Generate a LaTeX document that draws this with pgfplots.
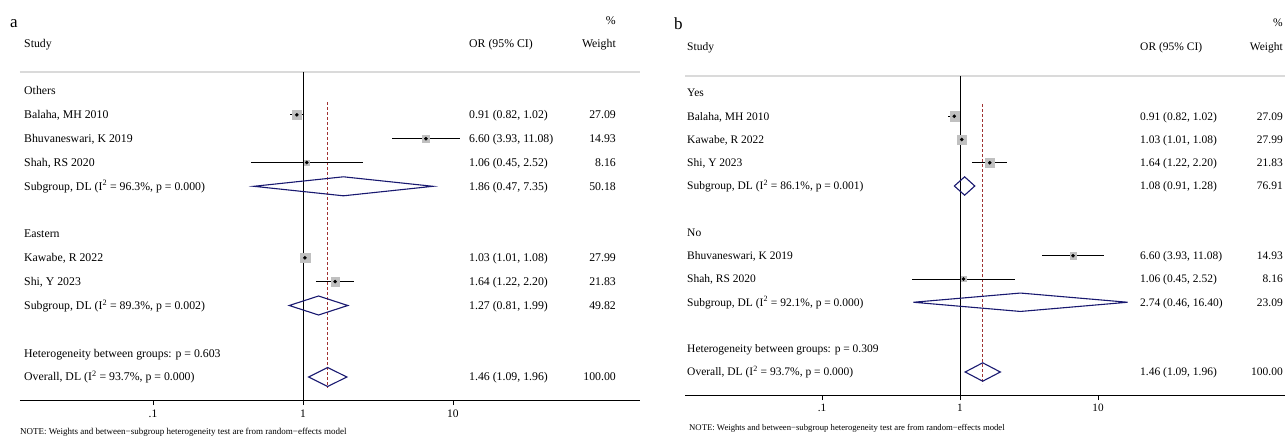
\documentclass[border=0pt]{standalone}
\usepackage{fontspec}
\setmainfont{Liberation Serif}
\usepackage{pgfplots}
\pgfplotsset{compat=1.18}
\definecolor{dnavy}{RGB}{25,25,112}
\definecolor{dred}{RGB}{160,50,50}
\definecolor{boxgray}{RGB}{192,192,192}
\definecolor{linegray}{RGB}{218,218,218}
\newcommand\fa{\fontsize{11.8}{14}\selectfont}
\newcommand\fb{\fontsize{11.5}{14}\selectfont}
\pgfplotsset{
  ci/.style={black, line width=1pt, mark=none},
  dot/.style={only marks, mark=*, mark size=1.6pt, black},
  box/.style={only marks, color=boxgray, mark=square*, mark size=#1, mark options={fill=boxgray, draw=none}},
  dia/.style={dnavy, line width=1.1pt, mark=none, line join=miter},
}
\tikzset{
  L/.style={anchor=base west, inner sep=0pt, yshift=-3.9pt},
  R/.style={anchor=base east, inner sep=0pt, yshift=-3.9pt},
}
\begin{document}
\begin{tikzpicture}[x=1pt,y=1pt]
\path[use as bounding box] (0,0) rectangle (1285,-436);
% ---------------- panel a
\begin{axis}[xmode=log, scale only axis, clip=false,
  axis x line*=bottom, axis y line=none,
  xtick={0.1,1,10}, xticklabels={.1,1,10},
  xminorticks=false, minor tick length=0pt,
  tick align=outside, major tick length=5pt,
  xtick style={black, line width=0.8pt},
  x axis line style={black, line width=1pt},
  ticklabel style={font=\fontsize{11.5}{12}\selectfont},
  xticklabel style={yshift=-1.5pt},
  at={(20pt,-400pt)}, anchor=south west,
  width=620pt, height=328pt, xmin=0.012985, xmax=176.5, ymin=-400, ymax=-72]
\addplot[linegray, line width=2pt, mark=none] coordinates {(0.012985,-72) (176.5,-72)};
\addplot[black, line width=0.8pt, mark=none] coordinates {(1,-72) (1,-400)};
\addplot[dred, line width=0.8pt, dash pattern=on 3pt off 2pt, mark=none] coordinates {(1.46,-102) (1.46,-388)};
% boxes
\addplot[box=4.8pt] coordinates {(0.91,-114.8)};
\addplot[box=3.55pt] coordinates {(6.60,-138.7)};
\addplot[box=2.6pt] coordinates {(1.06,-162.5)};
\addplot[box=4.85pt] coordinates {(1.03,-257.8)};
\addplot[box=4.3pt] coordinates {(1.64,-281.6)};
% CIs
\addplot[ci] coordinates {(0.82,-114.8) (1.02,-114.8)};
\addplot[ci] coordinates {(3.93,-138.7) (11.08,-138.7)};
\addplot[ci] coordinates {(0.45,-162.5) (2.52,-162.5)};
\addplot[ci] coordinates {(1.01,-257.8) (1.08,-257.8)};
\addplot[ci] coordinates {(1.22,-281.6) (2.20,-281.6)};
\addplot[dot] coordinates {(0.91,-114.8) (6.60,-138.7) (1.06,-162.5) (1.03,-257.8) (1.64,-281.6)};
% diamonds
\addplot[dia] coordinates {(0.47,-186.3) (1.86,-176.8) (7.35,-186.3) (1.86,-195.8)} -- cycle;
\addplot[dia] coordinates {(0.81,-305.5) (1.27,-296.0) (1.99,-305.5) (1.27,-315.0)} -- cycle;
\addplot[dia] coordinates {(1.09,-377) (1.46,-367.5) (1.96,-377) (1.46,-386.5)} -- cycle;
\end{axis}
% text a
\node[anchor=base west, inner sep=0pt, font=\fontsize{17}{18}\selectfont] at (10,-27.5) {a};
\begin{scope}[every node/.append style={font=\fa}]
\node[R] at (616,-21) {\%};
\node[L] at (24,-44) {Study};
\node[L] at (469,-44) {OR (95\% CI)};
\node[R] at (616,-44) {Weight};
\node[L] at (24,-91) {Others};
\node[L] at (24,-114.8) {Balaha, MH 2010};
\node[L] at (469,-114.8) {0.91 (0.82, 1.02)};
\node[R] at (616,-114.8) {27.09};
\node[L] at (24,-138.7) {Bhuvaneswari, K 2019};
\node[L] at (469,-138.7) {6.60 (3.93, 11.08)};
\node[R] at (616,-138.7) {14.93};
\node[L] at (24,-162.5) {Shah, RS 2020};
\node[L] at (469,-162.5) {1.06 (0.45, 2.52)};
\node[R] at (616,-162.5) {8.16};
\node[L] at (24,-186.3) {Subgroup, DL (I\textsuperscript{2} = 96.3\%, p = 0.000)};
\node[L] at (469,-186.3) {1.86 (0.47, 7.35)};
\node[R] at (616,-186.3) {50.18};
\node[L] at (24,-234) {Eastern};
\node[L] at (24,-257.8) {Kawabe, R 2022};
\node[L] at (469,-257.8) {1.03 (1.01, 1.08)};
\node[R] at (616,-257.8) {27.99};
\node[L] at (24,-281.6) {Shi, Y 2023};
\node[L] at (469,-281.6) {1.64 (1.22, 2.20)};
\node[R] at (616,-281.6) {21.83};
\node[L] at (24,-305.5) {Subgroup, DL (I\textsuperscript{2} = 89.3\%, p = 0.002)};
\node[L] at (469,-305.5) {1.27 (0.81, 1.99)};
\node[R] at (616,-305.5) {49.82};
\node[L] at (24,-353.1) {Heterogeneity between groups: p = 0.603};
\node[L] at (24,-377) {Overall, DL (I\textsuperscript{2} = 93.7\%, p = 0.000)};
\node[L] at (469,-377) {1.46 (1.09, 1.96)};
\node[R] at (616,-377) {100.00};
\end{scope}
\node[anchor=base west, inner sep=0pt, font=\fontsize{9}{10}\selectfont] at (20,-434) {NOTE: Weights and between−subgroup heterogeneity test are from random−effects model};
% ---------------- panel b
\begin{axis}[xmode=log, scale only axis, clip=false,
  axis x line*=bottom, axis y line=none,
  xtick={0.1,1,10}, xticklabels={.1,1,10},
  xminorticks=false, minor tick length=0pt,
  tick align=outside, major tick length=5pt,
  xtick style={black, line width=0.8pt},
  x axis line style={black, line width=1pt},
  ticklabel style={font=\fontsize{11.2}{12}\selectfont},
  xticklabel style={yshift=-1pt},
  at={(685pt,-395pt)}, anchor=south west,
  width=600pt, height=319pt, xmin=0.010167, xmax=226.5, ymin=-395, ymax=-76]
\addplot[linegray, line width=2pt, mark=none] coordinates {(0.010167,-76) (226.5,-76)};
\addplot[black, line width=0.8pt, mark=none] coordinates {(1,-76) (1,-395)};
\addplot[dred, line width=0.8pt, dash pattern=on 3pt off 2pt, mark=none] coordinates {(1.46,-104) (1.46,-384)};
\addplot[box=4.6pt] coordinates {(0.91,-116.25)};
\addplot[box=4.65pt] coordinates {(1.03,-139.5)};
\addplot[box=4.1pt] coordinates {(1.64,-162.75)};
\addplot[box=3.4pt] coordinates {(6.60,-255.75)};
\addplot[box=2.5pt] coordinates {(1.06,-279)};
\addplot[ci] coordinates {(0.82,-116.25) (1.02,-116.25)};
\addplot[ci] coordinates {(1.01,-139.5) (1.08,-139.5)};
\addplot[ci] coordinates {(1.22,-162.75) (2.20,-162.75)};
\addplot[ci] coordinates {(3.93,-255.75) (11.08,-255.75)};
\addplot[ci] coordinates {(0.45,-279) (2.52,-279)};
\addplot[dot] coordinates {(0.91,-116.25) (1.03,-139.5) (1.64,-162.75) (6.60,-255.75) (1.06,-279)};
\addplot[dia] coordinates {(0.91,-186) (1.08,-176.8) (1.28,-186) (1.08,-195.2)} -- cycle;
\addplot[dia] coordinates {(0.46,-302.25) (2.74,-293.05) (16.40,-302.25) (2.74,-311.45)} -- cycle;
\addplot[dia] coordinates {(1.09,-372) (1.46,-362.8) (1.96,-372) (1.46,-381.2)} -- cycle;
\end{axis}
\node[anchor=base west, inner sep=0pt, font=\fontsize{17}{18}\selectfont] at (674,-30) {b};
\begin{scope}[every node/.append style={font=\fb}]
\node[R] at (1283,-23) {\%};
\node[L] at (687,-47) {Study};
\node[L] at (1140,-47) {OR (95\% CI)};
\node[R] at (1283,-47) {Weight};
\node[L] at (687,-93) {Yes};
\node[L] at (687,-116.25) {Balaha, MH 2010};
\node[L] at (1140,-116.25) {0.91 (0.82, 1.02)};
\node[R] at (1283,-116.25) {27.09};
\node[L] at (687,-139.5) {Kawabe, R 2022};
\node[L] at (1140,-139.5) {1.03 (1.01, 1.08)};
\node[R] at (1283,-139.5) {27.99};
\node[L] at (687,-162.75) {Shi, Y 2023};
\node[L] at (1140,-162.75) {1.64 (1.22, 2.20)};
\node[R] at (1283,-162.75) {21.83};
\node[L] at (687,-186) {Subgroup, DL (I\textsuperscript{2} = 86.1\%, p = 0.001)};
\node[L] at (1140,-186) {1.08 (0.91, 1.28)};
\node[R] at (1283,-186) {76.91};
\node[L] at (687,-232.5) {No};
\node[L] at (687,-255.75) {Bhuvaneswari, K 2019};
\node[L] at (1140,-255.75) {6.60 (3.93, 11.08)};
\node[R] at (1283,-255.75) {14.93};
\node[L] at (687,-279) {Shah, RS 2020};
\node[L] at (1140,-279) {1.06 (0.45, 2.52)};
\node[R] at (1283,-279) {8.16};
\node[L] at (687,-302.25) {Subgroup, DL (I\textsuperscript{2} = 92.1\%, p = 0.000)};
\node[L] at (1140,-302.25) {2.74 (0.46, 16.40)};
\node[R] at (1283,-302.25) {23.09};
\node[L] at (687,-348.75) {Heterogeneity between groups: p = 0.309};
\node[L] at (687,-372) {Overall, DL (I\textsuperscript{2} = 93.7\%, p = 0.000)};
\node[L] at (1140,-372) {1.46 (1.09, 1.96)};
\node[R] at (1283,-372) {100.00};
\end{scope}
\node[anchor=base west, inner sep=0pt, font=\fontsize{8.7}{10}\selectfont] at (689,-430) {NOTE: Weights and between−subgroup heterogeneity test are from random−effects model};
\end{tikzpicture}
\end{document}
